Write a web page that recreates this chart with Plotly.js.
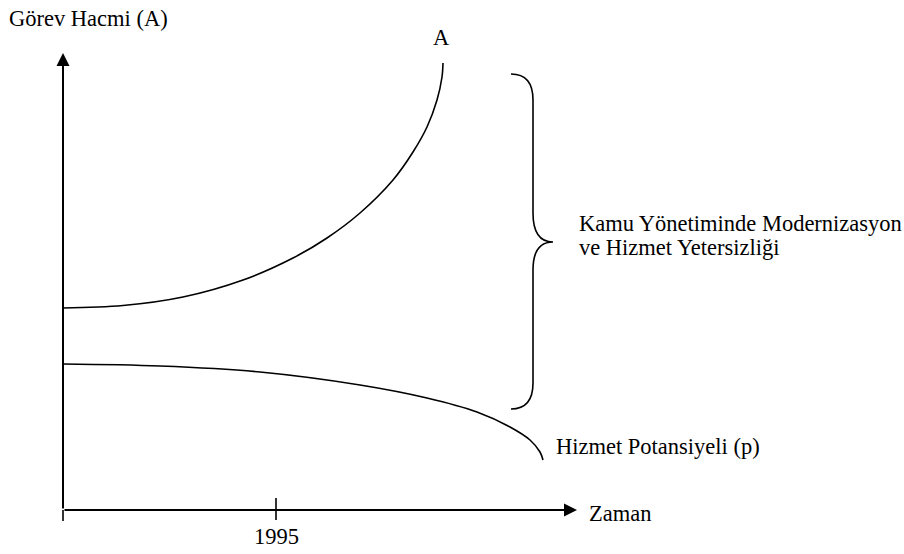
<!DOCTYPE html>
<html>
<head>
<meta charset="utf-8">
<script src="https://cdn.plot.ly/plotly-3.0.1.min.js"></script>
<style>html,body{margin:0;padding:0;background:#fff;}#chart{width:904px;height:554px;}</style>
</head>
<body>
<div id="chart"></div>
<script>
// Time axis (arbitrary units from origin) and curve values
const timeTask = [0, 60, 120, 180, 230, 264, 297, 330, 350, 364, 374, 379, 380];
const taskVolume = [202, 204.5, 213, 230, 252, 272, 297, 330, 358, 383, 410, 433, 447];
const timeService = [0, 97, 197, 297, 364, 414, 447, 467, 477, 480];
const servicePotential = [146, 144, 138, 125, 112, 98, 83, 70, 58, 50];
const tickPositions = [213];
const tickLabels = ['1995'];
const labelTask = 'A';
const labelService = 'Hizmet Potansiyeli (p)';
const yTitle = 'Görev Hacmi (A)';
const xTitle = 'Zaman';
const gapLabel = ['Kamu Yönetiminde Modernizasyon', 've Hizmet Yetersizliği'];

const FONT = {family: 'Liberation Serif', size: 22.5, color: '#000'};

const traces = [
  {x: timeTask, y: taskVolume, mode: 'lines', line: {color: '#000', width: 1.6, shape: 'spline', smoothing: 1}, hoverinfo: 'skip'},
  {x: timeService, y: servicePotential, mode: 'lines', line: {color: '#000', width: 1.6, shape: 'spline', smoothing: 1}, hoverinfo: 'skip'}
];

const AX = {color: '#333', width: 2};
const shapes = [
  // tick mark
  {type: 'line', xref: 'x', yref: 'y', x0: tickPositions[0], x1: tickPositions[0], y0: -10, y1: 12, line: AX},
  // y-axis tail below x-axis
  {type: 'line', xref: 'x', yref: 'y', x0: 0, x1: 0, y0: -11, y1: 0, line: AX},
  // curly brace
  {type: 'path', xref: 'x', yref: 'y', line: {color: '#000', width: 1.6},
   path: 'M448,436 Q470,436 470,410 L470,297 Q470,268 490,268 Q470,268 470,240 L470,127 Q470,101 448,101'}
];

const annotations = [
  // axes with arrowheads
  {x: 0, y: 457, ax: 0, ay: 0, xref: 'x', yref: 'y', axref: 'x', ayref: 'y', text: '', showarrow: true, arrowhead: 2, arrowsize: 1.3, arrowwidth: 2, arrowcolor: '#000', standoff: 0, startstandoff: 0},
  {x: 514, y: 0, ax: 0, ay: 0, xref: 'x', yref: 'y', axref: 'x', ayref: 'y', text: '', showarrow: true, arrowhead: 2, arrowsize: 1.3, arrowwidth: 2, arrowcolor: '#000', standoff: 0, startstandoff: 0},
  {x: -56, y: 492, xref: 'x', yref: 'y', text: yTitle, showarrow: false, xanchor: 'left', yanchor: 'middle', font: FONT},
  {x: 378, y: 473, xref: 'x', yref: 'y', text: labelTask, showarrow: false, xanchor: 'center', yanchor: 'middle', font: FONT},
  {x: 514, y: 287, xref: 'x', yref: 'y', text: gapLabel[0], showarrow: false, xanchor: 'left', yanchor: 'middle', font: FONT},
  {x: 514, y: 263, xref: 'x', yref: 'y', text: gapLabel[1], showarrow: false, xanchor: 'left', yanchor: 'middle', font: FONT},
  {x: 491, y: 64, xref: 'x', yref: 'y', text: labelService, showarrow: false, xanchor: 'left', yanchor: 'middle', font: FONT},
  {x: 524, y: -3, xref: 'x', yref: 'y', text: xTitle, showarrow: false, xanchor: 'left', yanchor: 'middle', font: FONT},
  {x: tickPositions[0], y: -26, xref: 'x', yref: 'y', text: tickLabels[0], showarrow: false, xanchor: 'center', yanchor: 'middle', font: FONT}
];

const layout = {
  width: 904, height: 554,
  margin: {l: 0, r: 0, t: 0, b: 0, pad: 0},
  paper_bgcolor: '#fff', plot_bgcolor: '#fff',
  showlegend: false,
  xaxis: {range: [-63, 841], visible: false, fixedrange: true},
  yaxis: {range: [-44, 510], visible: false, fixedrange: true},
  shapes: shapes,
  annotations: annotations
};

Plotly.newPlot('chart', traces, layout, {displayModeBar: false, staticPlot: true});
</script>
</body>
</html>
